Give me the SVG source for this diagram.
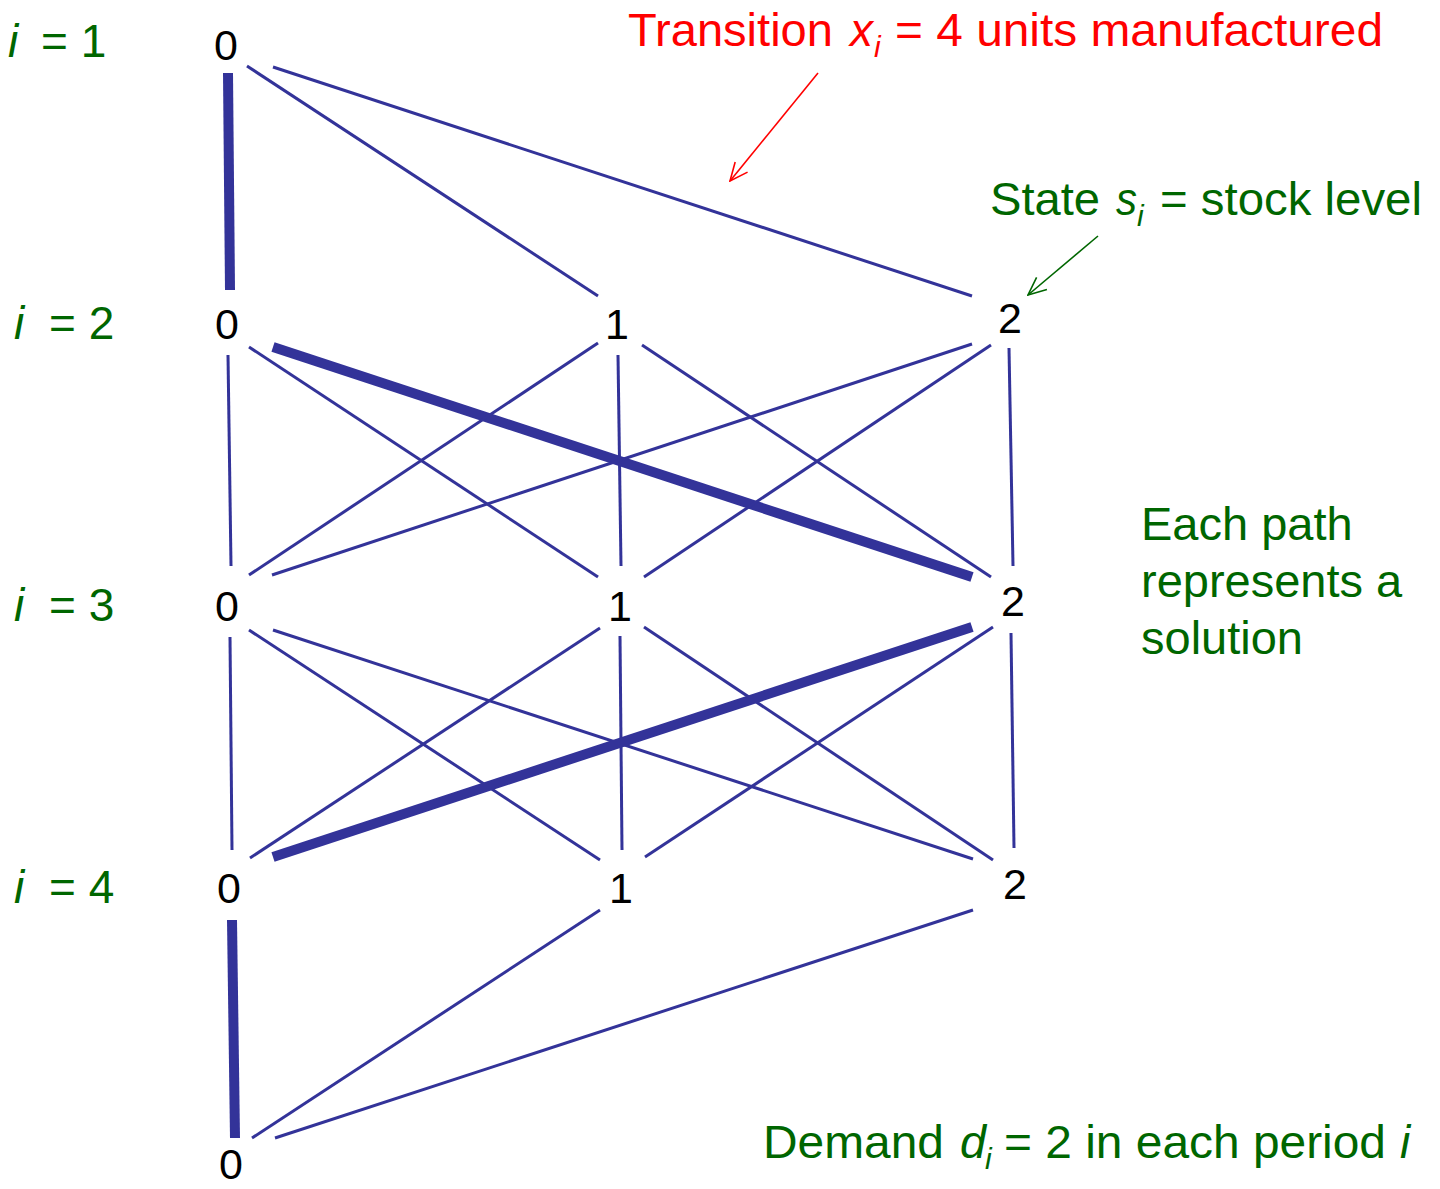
<svg xmlns="http://www.w3.org/2000/svg" width="1440" height="1189" viewBox="0 0 1440 1189">
<defs>
<style>
.t{font-family:"Liberation Sans",Arial,sans-serif}
.n{font-size:43px;fill:#000;text-anchor:middle}
.g{fill:#006600}
.r{fill:#ff0000}
.it{font-style:italic}
.big{font-size:46px}
.sub{font-size:30px}
.e{stroke:#333399;stroke-width:3;fill:none}
.th{stroke:#333399;stroke-width:10;fill:none}
</style>
<marker id="ar" viewBox="0 0 20 20" refX="19" refY="10" markerWidth="20" markerHeight="20" markerUnits="userSpaceOnUse" orient="auto">
<path d="M1,2 L19,10 L1,18" fill="none" stroke="#ff0000" stroke-width="1.6"/>
</marker>
<marker id="ag" viewBox="0 0 20 20" refX="19" refY="10" markerWidth="20" markerHeight="20" markerUnits="userSpaceOnUse" orient="auto">
<path d="M1,2 L19,10 L1,18" fill="none" stroke="#006600" stroke-width="1.6"/>
</marker>
</defs>
<rect width="1440" height="1189" fill="#fff"/>
<g id="connectors">
<line class="th" x1="228" y1="73" x2="230" y2="290"/>
<line class="e" x1="247" y1="66" x2="598" y2="296"/>
<line class="e" x1="273" y1="67" x2="972" y2="296"/>
<line class="e" x1="228" y1="355" x2="231" y2="566"/>
<line class="e" x1="249" y1="347" x2="598" y2="577"/>
<line class="th" x1="273" y1="347" x2="972" y2="577"/>
<line class="e" x1="598" y1="343" x2="249" y2="575"/>
<line class="e" x1="618" y1="355" x2="621" y2="566"/>
<line class="e" x1="642" y1="345" x2="991" y2="577"/>
<line class="e" x1="972" y1="344" x2="272" y2="575"/>
<line class="e" x1="991" y1="345" x2="644" y2="577"/>
<line class="e" x1="1009" y1="348" x2="1013" y2="566"/>
<line class="e" x1="230" y1="637" x2="232" y2="850"/>
<line class="e" x1="249" y1="630" x2="600" y2="860"/>
<line class="e" x1="273" y1="630" x2="973" y2="859"/>
<line class="e" x1="600" y1="628" x2="250" y2="858"/>
<line class="e" x1="620" y1="636" x2="622" y2="850"/>
<line class="e" x1="644" y1="627" x2="993" y2="860"/>
<line class="th" x1="972" y1="627" x2="273" y2="857"/>
<line class="e" x1="993" y1="627" x2="645" y2="857"/>
<line class="e" x1="1011" y1="633" x2="1014" y2="848"/>
<line class="th" x1="232" y1="920" x2="235" y2="1138"/>
<line class="e" x1="600" y1="910" x2="252" y2="1138"/>
<line class="e" x1="973" y1="910" x2="275" y2="1138"/>
<line x1="818" y1="73" x2="730" y2="181" stroke="#ff0000" stroke-width="1.6" marker-end="url(#ar)"/>
<line x1="1098" y1="236" x2="1028" y2="295" stroke="#006600" stroke-width="1.6" marker-end="url(#ag)"/>
</g>
<g id="n1-0"><text class="t n" x="226" y="60">0</text></g>
<g id="n2-0"><text class="t n" x="227" y="339">0</text></g>
<g id="n2-1"><text class="t n" x="617" y="339">1</text></g>
<g id="n2-2"><text class="t n" x="1010" y="333">2</text></g>
<g id="n3-0"><text class="t n" x="227" y="621">0</text></g>
<g id="n3-1"><text class="t n" x="620" y="621">1</text></g>
<g id="n3-2"><text class="t n" x="1013" y="616">2</text></g>
<g id="n4-0"><text class="t n" x="229" y="903">0</text></g>
<g id="n4-1"><text class="t n" x="621" y="903">1</text></g>
<g id="n4-2"><text class="t n" x="1015" y="899">2</text></g>
<g id="n5-0"><text class="t n" x="231" y="1179">0</text></g>
<g id="labels">
<text class="t g big" x="8" y="57"><tspan class="it">i</tspan><tspan x="41">= 1</tspan></text>
<text class="t g big" x="14" y="339"><tspan class="it">i</tspan><tspan x="49">= 2</tspan></text>
<text class="t g big" x="14" y="621"><tspan class="it">i</tspan><tspan x="49">= 3</tspan></text>
<text class="t g big" x="14" y="903"><tspan class="it">i</tspan><tspan x="49">= 4</tspan></text>
</g>
<g id="note-transition">
<text class="t r big" x="628" y="46" textLength="205" lengthAdjust="spacingAndGlyphs">Transition</text>
<text class="t r big it" x="850" y="46" textLength="23" lengthAdjust="spacingAndGlyphs">x</text>
<text class="t r sub it" x="874" y="57">i</text>
<text class="t r big" x="895" y="46" textLength="488" lengthAdjust="spacingAndGlyphs">= 4 units manufactured</text>
</g>
<g id="note-state">
<text class="t g big" x="990" y="215" textLength="110" lengthAdjust="spacingAndGlyphs">State</text>
<text class="t g big it" x="1116" y="215" textLength="21" lengthAdjust="spacingAndGlyphs">s</text>
<text class="t g sub it" x="1137" y="226">i</text>
<text class="t g big" x="1160" y="215" textLength="262" lengthAdjust="spacingAndGlyphs">= stock level</text>
</g>
<g id="note-path">
<text class="t g" x="1141" y="540" font-size="47">Each path</text>
<text class="t g" x="1141" y="597" font-size="47">represents a</text>
<text class="t g" x="1141" y="654" font-size="47">solution</text>
</g>
<g id="note-demand">
<text class="t g big" x="763" y="1158" textLength="181" lengthAdjust="spacingAndGlyphs">Demand</text>
<text class="t g big it" x="960" y="1158" textLength="26" lengthAdjust="spacingAndGlyphs">d</text>
<text class="t g sub it" x="985" y="1169">i</text>
<text class="t g big" x="1004" y="1158" textLength="382" lengthAdjust="spacingAndGlyphs">= 2 in each period</text>
<text class="t g big it" x="1400" y="1158">i</text>
</g>
</svg>
